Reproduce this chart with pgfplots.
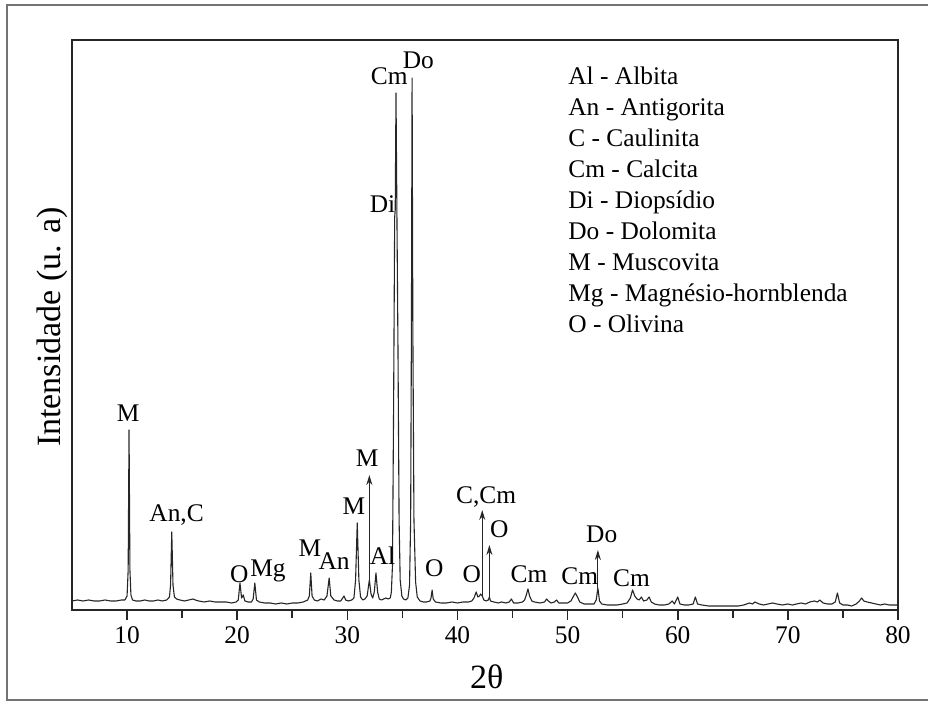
\documentclass[border=0pt]{standalone}
\usepackage{fontspec}
\setmainfont{Liberation Serif}
\usepackage{pgfplots}
\pgfplotsset{compat=1.18}
\usetikzlibrary{arrows.meta}
\newcommand{\lab}{\fontsize{12.7}{15}\selectfont}
\newcommand{\biglab}{\fontsize{17}{20}\selectfont}

\begin{document}
\begin{tikzpicture}
\useasboundingbox (-36pt,-47.5pt) rectangle (428pt,305pt);
% scanned page border
\draw[black!55, line width=0.9pt] (428pt,302.5pt) -- (-32.5pt,302.5pt) -- (-32.5pt,-45pt) -- (428pt,-45pt);
\begin{axis}[
  at={(0,0)}, anchor=south west,
  scale only axis, width=413pt, height=285pt,
  xmin=5, xmax=80, ymin=0, ymax=570,
  xtick={10,20,...,80}, minor xtick={15,25,...,75},
  ytick=\empty,
  xtick pos=left, tick align=outside,
  major tick length=5pt, minor tick length=4pt,
  tick style={black!85, line width=0.8pt},
  axis line style={black!85, line width=0.9pt},
  /pgf/number format/assume math mode=true,
  xticklabel style={font=\lab},
  xlabel={2θ}, ylabel={Intensidade (u. a)},
  every axis x label/.style={at={(axis description cs:0.502,-0.1175)}, anchor=center, font=\biglab},
  every axis y label/.style={at={(axis description cs:-0.0242,0.4965)}, rotate=90, anchor=center, font=\biglab},
]
\addplot[black!85, line width=0.55pt, line join=round] table {
x y
5.0 9
5.5 10
6.0 9
6.5 10
7.0 9
7.5 9
8.0 10
8.5 9
9.0 9
9.5 10
9.8 10
10.0 14
10.1 40
10.18 180
10.26 40
10.35 15
10.5 10
10.8 9
11.2 9
11.6 10
12.0 9
12.4 9
12.8 10
13.2 9
13.6 10
13.85 13
13.95 25
14.06 78
14.17 25
14.3 13
14.5 11
14.8 10
15.2 9
15.6 10
16.0 11
16.2 10
16.5 9
17.0 8
17.5 9
18.0 8
18.5 8
19.0 8
19.5 7
19.9 8
20.1 10
20.25 27
20.4 12
20.55 15
20.7 9
21.0 8
21.3 8
21.45 11
21.6 27
21.75 10
22.0 8
22.5 7
23.0 7
23.5 6
24.0 7
24.5 6
25.0 7
25.5 7
26.0 8
26.4 10
26.55 14
26.68 37
26.8 14
27.0 10
27.3 9
27.6 11
27.9 10
28.15 14
28.35 32
28.5 14
28.8 10
29.1 9
29.4 9
29.7 14
29.85 10
30.1 9
30.4 10
30.6 12
30.75 30
30.9 87
31.05 30
31.2 13
31.4 10
31.6 11
31.8 14
32.0 30
32.15 16
32.3 12
32.45 18
32.6 37
32.75 18
32.9 11
33.1 10
33.3 11
33.5 12
33.7 11
33.9 12
34.0 18
34.1 45
34.2 200
34.3 393
34.35 400
34.42 517
34.5 400
34.6 260
34.7 90
34.8 30
34.95 14
35.1 11
35.3 10
35.5 12
35.65 25
35.75 90
35.82 280
35.88 532
35.95 280
36.05 90
36.2 28
36.35 13
36.6 9
36.9 8
37.2 8
37.5 9
37.6 12
37.7 20
37.8 11
38.0 8
38.5 7
39.0 7
39.5 8
40.0 7
40.5 8
41.0 8
41.3 9
41.5 12
41.7 18
41.85 13
42.0 14
42.1 16
42.25 14
42.4 10
42.6 9
42.8 10
42.9 13
43.0 9
43.3 8
43.7 7
44.0 8
44.4 7
44.7 8
44.9 11
45.1 7
45.5 7
45.9 8
46.1 10
46.25 15
46.4 21
46.55 14
46.75 9
47.0 8
47.5 7
47.9 8
48.1 11
48.25 9
48.5 7
48.8 8
49.0 10
49.2 7
49.6 7
50.0 7
50.3 9
50.5 13
50.7 17
50.9 13
51.1 8
51.5 6
52.0 6
52.4 6
52.6 10
52.75 22
52.9 9
53.1 6
53.6 5
54.0 5
54.5 5
55.0 6
55.4 7
55.7 12
55.9 20
56.1 14
56.3 11
56.5 10
56.7 13
56.9 9
57.2 10
57.4 13
57.6 8
57.9 6
58.3 5
58.8 5
59.2 6
59.5 9
59.7 6
60.0 13
60.2 6
60.6 5
61.0 5
61.4 6
61.6 13
61.8 6
62.2 5
62.8 4
63.5 4
64.0 4
64.5 4
65.0 4
65.5 4
66.0 5
66.5 7
66.8 6
67.0 8
67.4 6
67.8 5
68.2 6
68.6 7
69.0 6
69.5 5
70.0 6
70.4 5
70.8 6
71.2 7
71.6 6
72.0 8
72.4 9
72.7 8
72.9 10
73.2 7
73.6 6
74.0 6
74.3 8
74.5 17
74.7 7
75.0 5
75.4 5
75.8 4
76.2 6
76.5 9
76.7 12
76.9 9
77.2 8
77.6 7
78.0 6
78.4 5
78.8 6
79.2 5
79.6 5
80.0 5
};
% marker arrows
\draw[black!85, line width=0.6pt, -{Stealth[length=5pt,width=3pt]}] (axis cs:32.0,30) -- (axis cs:32.0,135);
\draw[black!85, line width=0.6pt, -{Stealth[length=5pt,width=3pt]}] (axis cs:42.25,14) -- (axis cs:42.25,100);
\draw[black!85, line width=0.6pt, -{Stealth[length=5pt,width=3pt]}] (axis cs:42.9,13) -- (axis cs:42.9,65);
\draw[black!85, line width=0.6pt, -{Stealth[length=5pt,width=3pt]}] (axis cs:52.75,22) -- (axis cs:52.75,60);
% peak labels
\begin{scope}[every node/.style={anchor=base, inner sep=0pt, font=\lab}]
\node at (axis cs:10.09,188) {M};
\node at (axis cs:14.5,88) {An,C};
\node at (axis cs:20.18,27) {O};
\node at (axis cs:22.8,33) {Mg};
\node at (axis cs:26.6,53) {M};
\node at (axis cs:28.8,40) {An};
\node at (axis cs:30.6,95) {M};
\node at (axis cs:31.8,143) {M};
\node at (axis cs:33.2,45) {Al};
\node at (axis cs:33.8,525) {Cm};
\node at (axis cs:36.45,541) {Do};
\node at (axis cs:33.2,397) {Di};
\node at (axis cs:37.9,33) {O};
\node at (axis cs:41.3,27) {O};
\node at (axis cs:42.6,106) {C,Cm};
\node at (axis cs:43.8,72) {O};
\node at (axis cs:46.5,27) {Cm};
\node at (axis cs:51.1,25) {Cm};
\node at (axis cs:53.1,67) {Do};
\node at (axis cs:55.8,23) {Cm};
\end{scope}
\end{axis}
% key of abbreviations
\node[anchor=north west, inner sep=0pt, align=left, font=\fontsize{12.7}{15.5}\selectfont] at (248pt,271.9pt)
  {Al - Albita\\An - Antigorita\\C - Caulinita\\Cm - Calcita\\Di - Diopsídio\\Do - Dolomita\\M - Muscovita\\Mg - Magnésio-hornblenda\\O - Olivina};
\end{tikzpicture}
\end{document}
